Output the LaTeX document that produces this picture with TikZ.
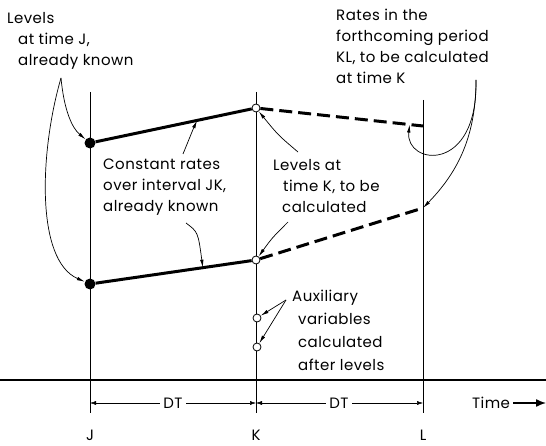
\documentclass[tikz,border=0pt]{standalone}
\usepackage{fontspec}
\setmainfont{Poppins}[LetterSpace=3]
\usetikzlibrary{arrows.meta, calc}

\begin{document}
\begin{tikzpicture}[
    x=1pt, y=-1pt,
    note/.style={anchor=north west, inner sep=0pt, align=left, font=\fontsize{15}{21}\selectfont},
    lab/.style={font=\fontsize{15}{18}\selectfont},
    known/.style={circle, fill=black, inner sep=0pt, minimum size=11pt},
    level/.style={circle, draw, thick, fill=white, inner sep=0pt, minimum size=8pt},
    rate/.style={line width=3pt},
    ratedash/.style={line width=3pt, dash pattern=on 13pt off 6pt},
    timeline/.style={line width=0.8pt},
    pointer/.style={-{Latex[length=8pt, width=3.5pt]}, line width=0.7pt},
    dim/.style={-{Latex[length=6pt, width=4pt]}, line width=0.5pt}
]
\useasboundingbox (0,0) rectangle (546,446);

% Time axis
\draw[line width=1.6pt] (0,380) -- (546,380);
\foreach \n/\x/\t in {J/90/92, K/256/92, L/423/100} {
    \coordinate (\n) at (\x,380);
    \draw[timeline] (\x,\t) -- (\x,413);
    \node[lab] (lab\n) at (\x,435) {\n};
}

% Levels and rates
\node[known] (j1) at (90,143) {};
\node[known] (j2) at (90,284) {};
\node[level] (k1) at (256,108) {};
\node[level] (k2) at (256,260) {};
\coordinate (l1) at (423,126);
\coordinate (l2) at (423,208);
\draw[rate] (j1) -- (k1);
\draw[rate] (j2) -- (k2);
\draw[ratedash] (k1) -- (l1);
\draw[ratedash] (k2) -- (l2);
\node[level] (a1) at (257,318) {};
\node[level] (a2) at (257,347) {};

% Notes
\node[note] (levJ) at (7,12) {Levels\\\hspace*{11pt}at time J,\\\hspace*{11pt}already known};
\node[note] (const) at (103,159) {Constant rates\\over interval JK,\\already known};
\node[note] (levK) at (273,159) {Levels at\\\hspace*{10pt}time K, to be\\\hspace*{9pt}calculated};
\node[note] (rates) at (336,9) {Rates in the\\forthcoming period\\KL, to be calculated\\at time K};
\node[note, font=\fontsize{15}{23}\selectfont] (aux) at (292,290) {Auxiliary\\\hspace*{6pt}variables\\\hspace*{6pt}calculated\\\hspace*{6pt}after levels};

% Pointers
\coordinate (cuspJ) at (61,78);
\draw[pointer] (cuspJ) .. controls (64,110) and (72,128) .. (j1);
\draw[pointer] (cuspJ) .. controls (40,150) and (35,260) .. (j2);
\coordinate (constA) at (183,154);
\draw[pointer] (constA) .. controls (188,140) .. ($(j1)!0.645!(k1)$);
\coordinate (constB) at (186,223);
\draw[pointer] (constB) .. controls (198,232) .. ($(j2)!0.68!(k2)$);
\coordinate (lvA) at (298,152);
\draw[pointer] (lvA) .. controls (278,135) .. (k1);
\coordinate (lvB) at (288,222);
\draw[pointer] (lvB) .. controls (272,238) .. (k2);
\coordinate (auxA) at (286,300);
\draw[pointer] (auxA) -- (a1);
\draw[pointer] (auxA) -- (a2);
\coordinate (cuspL) at (476,80);
\draw[pointer] (cuspL) .. controls (478,175) and (405,165) .. ($(k1)!0.92!(l1)$);
\draw[pointer] (cuspL) .. controls (476,140) and (455,175) .. (l2);

% Intervals
\node[lab] (dt1) at (173,403) {DT};
\node[lab] (dt2) at (339,403) {DT};
\draw[dim] (dt1) -- (J |- dt1);
\draw[dim] (dt1) -- (K |- dt1);
\draw[dim] (dt2) -- (K |- dt2);
\draw[dim] (dt2) -- (L |- dt2);
\node[lab] (time) at (491,403) {Time};
\coordinate (timeEnd) at (546,403);
\draw[-{Latex[length=10pt, width=8pt]}, line width=1.4pt] (time) -- (timeEnd);
\end{tikzpicture}
\end{document}
